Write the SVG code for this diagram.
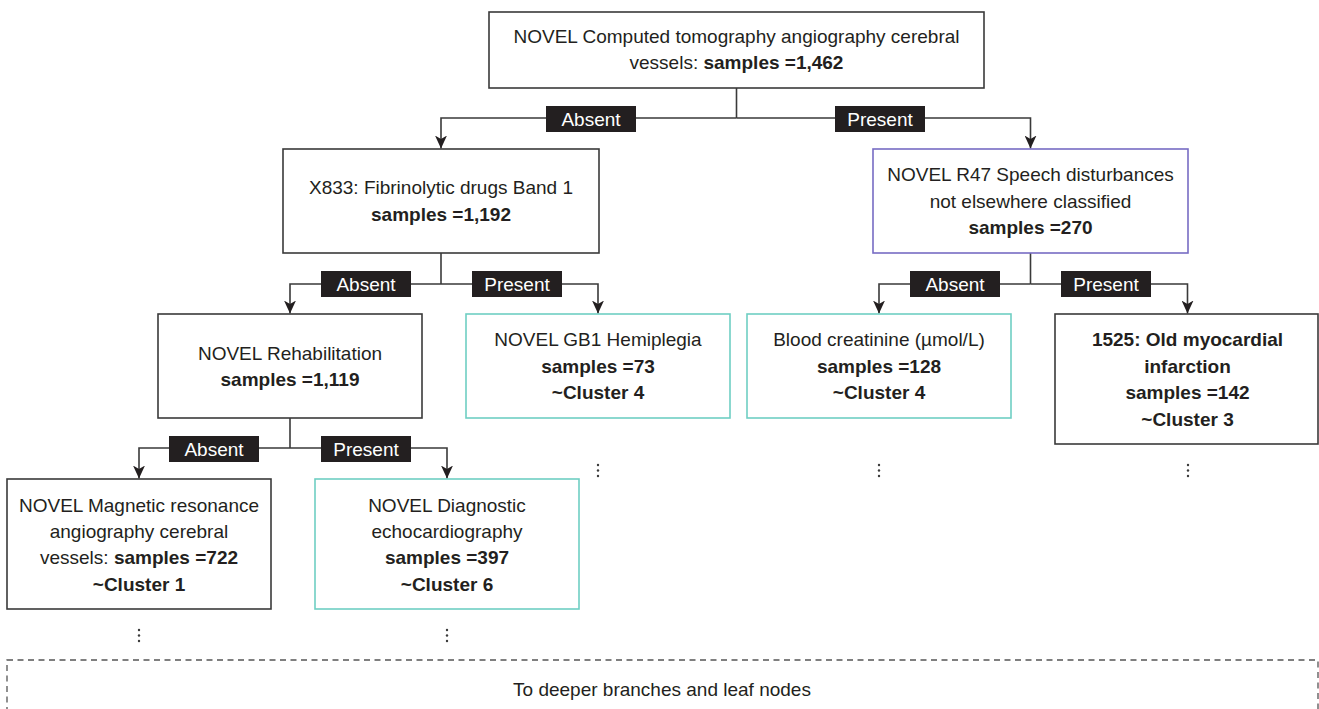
<svg xmlns="http://www.w3.org/2000/svg" width="1319" height="709" viewBox="0 0 1319 709">
<style>
text{font-family:"Liberation Sans",Arial,Helvetica,sans-serif;font-size:19px;fill:#231f20;text-anchor:middle}
.b{font-weight:bold}
.box{fill:#fff;stroke:#3a3a3a;stroke-width:1.6}
.teal{fill:#fff;stroke:#6fcfc3;stroke-width:1.6}
.purple{fill:#fff;stroke:#776cc4;stroke-width:1.6}
.conn{fill:none;stroke:#3a3a3a;stroke-width:1.6}
.lab{fill:#231f20}
.labt{fill:#fff}
.dot{fill:#3a3a3a}
.dash{fill:none;stroke:#555;stroke-width:1.3;stroke-dasharray:6 4.5}
</style>
<defs>
<marker id="arr" markerUnits="userSpaceOnUse" markerWidth="14" markerHeight="12" refX="13" refY="6" orient="auto">
<path d="M0,0 L13,6 L0,12 L3.5,6 z" fill="#231f20"/>
</marker>
</defs>

<g id="connectors">
<path class="conn" d="M736.5,88 V118"/>
<path class="conn" d="M736.5,118 H441 V148.5" marker-end="url(#arr)"/>
<path class="conn" d="M736.5,118 H1030.5 V148.5" marker-end="url(#arr)"/>
<path class="conn" d="M441,253 V284"/>
<path class="conn" d="M441,284 H290 V313.5" marker-end="url(#arr)"/>
<path class="conn" d="M441,284 H598 V313.5" marker-end="url(#arr)"/>
<path class="conn" d="M1030.5,253 V284"/>
<path class="conn" d="M1030.5,284 H879 V313.5" marker-end="url(#arr)"/>
<path class="conn" d="M1030.5,284 H1187.5 V313.5" marker-end="url(#arr)"/>
<path class="conn" d="M290,418 V448"/>
<path class="conn" d="M290,448 H139 V478.5" marker-end="url(#arr)"/>
<path class="conn" d="M290,448 H447 V478.5" marker-end="url(#arr)"/>
<g id="labels">
<rect class="lab" x="546" y="106" width="90" height="26"/><text class="labt" x="591" y="126">Absent</text>
<rect class="lab" x="835" y="106" width="90" height="26"/><text class="labt" x="880" y="126">Present</text>
<rect class="lab" x="321" y="271" width="90" height="26"/><text class="labt" x="366" y="291">Absent</text>
<rect class="lab" x="472" y="271" width="90" height="26"/><text class="labt" x="517" y="291">Present</text>
<rect class="lab" x="910" y="271" width="90" height="26"/><text class="labt" x="955" y="291">Absent</text>
<rect class="lab" x="1061" y="271" width="90" height="26"/><text class="labt" x="1106" y="291">Present</text>
<rect class="lab" x="169" y="436" width="90" height="26"/><text class="labt" x="214" y="456">Absent</text>
<rect class="lab" x="321" y="436" width="90" height="26"/><text class="labt" x="366" y="456">Present</text>
</g>
<g id="continuations">
<circle class="dot" cx="598" cy="465" r="1.2"/><circle class="dot" cx="598" cy="470.5" r="1.2"/><circle class="dot" cx="598" cy="476" r="1.2"/>
<circle class="dot" cx="879" cy="465" r="1.2"/><circle class="dot" cx="879" cy="470.5" r="1.2"/><circle class="dot" cx="879" cy="476" r="1.2"/>
<circle class="dot" cx="1188" cy="465" r="1.2"/><circle class="dot" cx="1188" cy="470.5" r="1.2"/><circle class="dot" cx="1188" cy="476" r="1.2"/>
<circle class="dot" cx="139" cy="630" r="1.2"/><circle class="dot" cx="139" cy="635.5" r="1.2"/><circle class="dot" cx="139" cy="641" r="1.2"/>
<circle class="dot" cx="447" cy="630" r="1.2"/><circle class="dot" cx="447" cy="635.5" r="1.2"/><circle class="dot" cx="447" cy="641" r="1.2"/>
</g>
</g>

<g id="root">
<rect class="box" x="489" y="12" width="495" height="76"/>
<text x="736.5" y="43">NOVEL Computed tomography angiography cerebral</text>
<text x="736.5" y="69">vessels: <tspan class="b">samples =1,462</tspan></text>
</g>

<g id="x833">
<rect class="box" x="283" y="149" width="316" height="104"/>
<text x="441" y="194">X833: Fibrinolytic drugs Band 1</text>
<text x="441" y="221" class="b">samples =1,192</text>
</g>

<g id="r47">
<rect class="purple" x="873" y="149" width="315" height="104"/>
<text x="1030.5" y="181">NOVEL R47 Speech disturbances</text>
<text x="1030.5" y="207.5">not elsewhere classified</text>
<text x="1030.5" y="234" class="b">samples =270</text>
</g>

<g id="rehab">
<rect class="box" x="158" y="314" width="264" height="104"/>
<text x="290" y="360">NOVEL Rehabilitation</text>
<text x="290" y="386" class="b">samples =1,119</text>
</g>

<g id="gb1">
<rect class="teal" x="466" y="314" width="264" height="104"/>
<text x="598" y="346">NOVEL GB1 Hemiplegia</text>
<text x="598" y="373" class="b">samples =73</text>
<text x="598" y="399" class="b">~Cluster 4</text>
</g>

<g id="creatinine">
<rect class="teal" x="747" y="314" width="264" height="104"/>
<text x="879" y="346">Blood creatinine (µmol/L)</text>
<text x="879" y="373" class="b">samples =128</text>
<text x="879" y="399" class="b">~Cluster 4</text>
</g>

<g id="omi">
<rect class="box" x="1055" y="314" width="263" height="130"/>
<text x="1187.5" y="346" class="b">1525: Old myocardial</text>
<text x="1187.5" y="373" class="b">infarction</text>
<text x="1187.5" y="399" class="b">samples =142</text>
<text x="1187.5" y="426" class="b">~Cluster 3</text>
</g>

<g id="mra">
<rect class="box" x="7" y="479" width="264" height="130"/>
<text x="139" y="512">NOVEL Magnetic resonance</text>
<text x="139" y="538">angiography cerebral</text>
<text x="139" y="564">vessels: <tspan class="b">samples =722</tspan></text>
<text x="139" y="591" class="b">~Cluster 1</text>
</g>

<g id="echo">
<rect class="teal" x="315" y="479" width="264" height="130"/>
<text x="447" y="512">NOVEL Diagnostic</text>
<text x="447" y="538">echocardiography</text>
<text x="447" y="564" class="b">samples =397</text>
<text x="447" y="591" class="b">~Cluster 6</text>
</g>

<g id="deeper">
<rect class="dash" x="7" y="660" width="1311" height="70"/>
<text x="662" y="696">To deeper branches and leaf nodes</text>
</g>
</svg>
